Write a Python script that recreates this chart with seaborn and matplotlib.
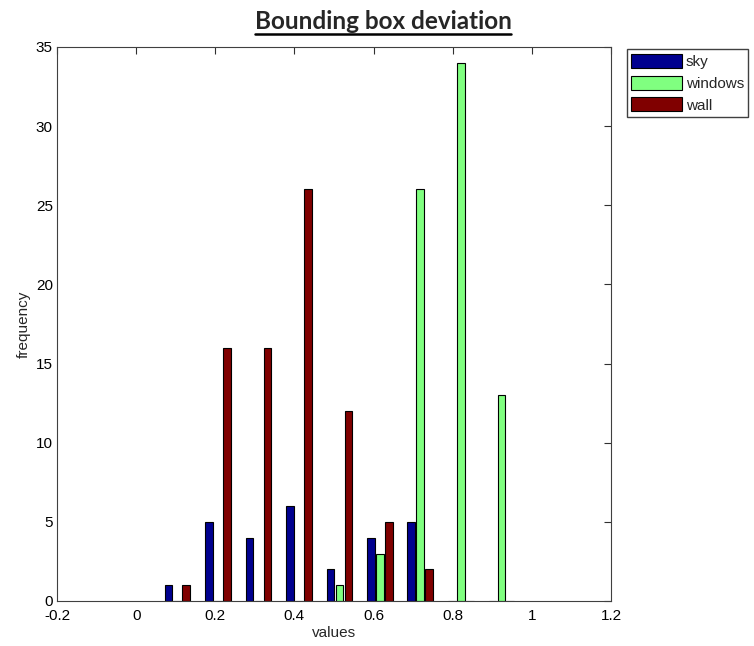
import numpy as np
import pandas as pd
import matplotlib
matplotlib.use("Agg")
import matplotlib.pyplot as plt
from matplotlib.lines import Line2D
import seaborn as sns

# Histogram bin centres and counts per class
bin_centers = [0.104, 0.207, 0.309, 0.411, 0.514, 0.616, 0.718, 0.821, 0.923]
sky = [1, 5, 4, 6, 2, 4, 5, 0, 0]
windows = [0, 0, 0, 0, 1, 3, 26, 34, 13]
wall = [1, 16, 16, 26, 12, 5, 2, 0, 0]
classes = ["sky", "windows", "wall"]
colors = ["#00008F", "#80FF80", "#800000"]

x_ticks = [-0.2, 0, 0.2, 0.4, 0.6, 0.8, 1, 1.2]
x_tick_labels = ["-0.2", "0", "0.2", "0.4", "0.6", "0.8", "1", "1.2"]
y_ticks = [0, 5, 10, 15, 20, 25, 30, 35]

df = pd.DataFrame({
    "values": bin_centers * 3,
    "frequency": sky + windows + wall,
    "class": [c for c in classes for _ in bin_centers],
})

sns.set_style("white")
plt.rcParams["font.family"] = ["Liberation Sans", "DejaVu Sans"]

fig = plt.figure(figsize=(7.54, 6.46), dpi=100)
ax = fig.add_axes([57 / 754, 1 - 601 / 646, (611 - 57) / 754, (601 - 47) / 646])

sns.barplot(
    data=df, x="values", y="frequency", hue="class", hue_order=classes,
    palette=colors, saturation=1, native_scale=True, width=0.665, gap=0.14,
    errorbar=None, edgecolor="black", linewidth=0.8, ax=ax, legend=True,
)

ax.set_xlim(-0.2, 1.2)
ax.set_ylim(0, 35)
ax.set_xticks(x_ticks)
ax.set_xticklabels(x_tick_labels)
ax.set_yticks(y_ticks)
ax.tick_params(axis="both", direction="in", length=5, width=0.8, colors="#303030",
               labelcolor="black", labelsize=11, top=True, right=True)
ax.tick_params(axis="x", pad=6)
ax.tick_params(axis="y", pad=3)
for s in ax.spines.values():
    s.set_visible(True)
    s.set_color("#404040")
    s.set_linewidth(0.8)
ax.set_xlabel("values", fontsize=11, labelpad=2)
ax.set_ylabel("frequency", fontsize=11, labelpad=4)

handles, labels = ax.get_legend_handles_labels()
ax.legend(handles, labels, loc="upper left",
          bbox_to_anchor=(626.7 / 754, 1 - 49.3 / 646), bbox_transform=fig.transFigure,
          fontsize=11, handlelength=3.3, handleheight=1.05, labelspacing=0.42,
          handletextpad=0.25, borderpad=0.3, borderaxespad=0, frameon=True,
          fancybox=False, edgecolor="#404040", framealpha=1)

# Underlined bold title
title = fig.text(383 / 754, 1 - 29 / 646, "Bounding box deviation", ha="center",
                 va="baseline", fontsize=17.5, fontweight="bold", family=["Lato", "DejaVu Sans"])
fig.canvas.draw()
bb = title.get_window_extent(renderer=fig.canvas.get_renderer())
inv = fig.transFigure.inverted()
(x0, _), (x1, _) = inv.transform([(bb.x0, bb.y0), (bb.x1, bb.y0)])
uy = 1 - 33.5 / 646
fig.add_artist(Line2D([x0, x1], [uy, uy], transform=fig.transFigure,
                      color="black", linewidth=1.8))

fig.savefig("out.png", dpi=100)
